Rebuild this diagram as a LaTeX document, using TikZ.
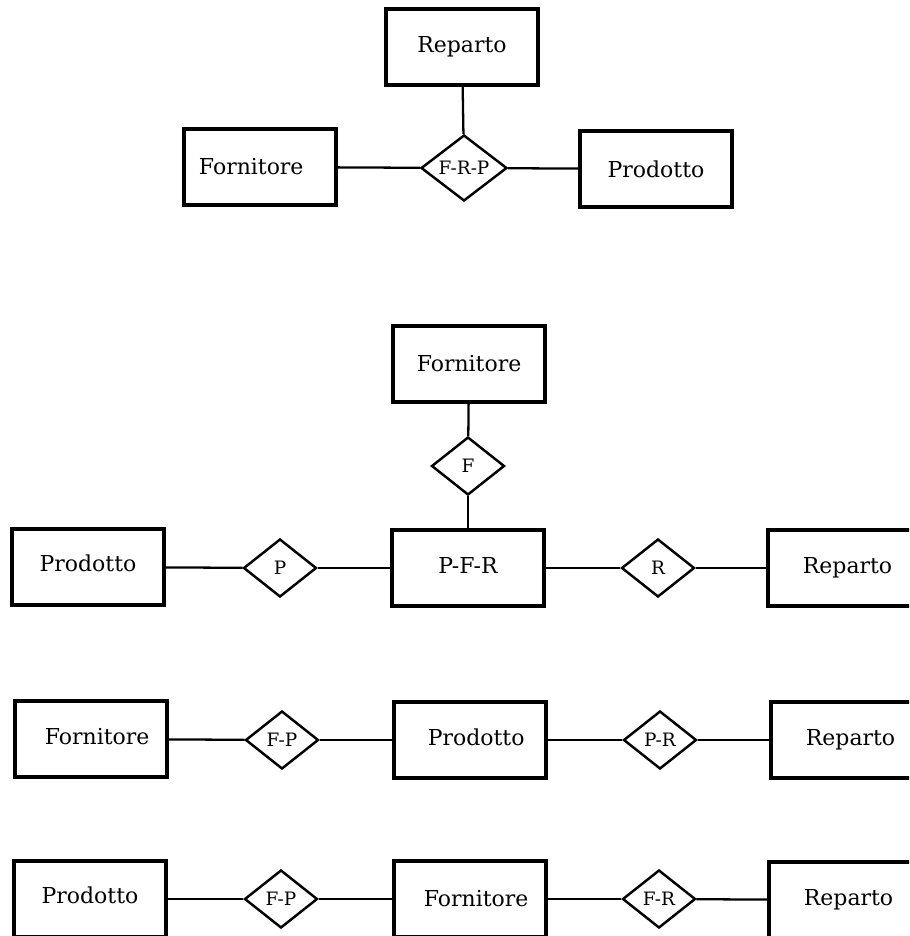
\documentclass[tikz,border=0pt]{standalone}
\usepackage{fontspec}
\setmainfont{DejaVu Serif}
\usetikzlibrary{positioning,shapes.geometric}

\tikzset{
  entity/.style={draw, line width=1.9pt, minimum width=3.04cm, minimum height=1.52cm,
                 inner sep=0pt, font=\fontsize{12.5}{14}\selectfont},
  relation/.style={draw, diamond, aspect=2, line width=1.4pt, minimum width=1.46cm, minimum height=1.16cm,
                   inner sep=0pt, font=\fontsize{10.5}{12}\selectfont},
  link/.style={line width=1.3pt}
}

\begin{document}
\begin{tikzpicture}[x=0.02cm, y=-0.02cm]

  \useasboundingbox (0,0) rectangle (909,936);
  \clip (0,0) rectangle (909,936);

  % ternary relation
  \node[entity]   (rep1) at (462,47)  {\raisebox{3pt}{Reparto}};
  \node[entity]   (for1) at (260,167) {\hspace*{-10pt}Fornitore};
  \node[relation, minimum width=1.72cm, minimum height=1.32cm] (frp) at (464,168) {F-R-P};
  \node[entity]   (pro1) at (656,169) {Prodotto};

  \draw[link] (for1) -- (frp);
  \draw[link] (frp) -- (pro1);
  \draw[link] (rep1) -- (frp);

  % P-F-R as entity
  \node[entity]   (for2) at (469,364) {Fornitore};
  \node[relation] (f2)   at (468,466) {F};
  \node[entity]   (pfr)  at (468,568) {\raisebox{3pt}{P-F-R}};
  \node[entity]   (pro2) at (88,567)  {\raisebox{4pt}{Prodotto}};
  \node[relation] (p2)   at (280,568) {P};
  \node[relation] (r2)   at (658,568) {R};
  \node[entity]   (rep2) at (844,568) {\hspace*{4pt}Reparto};

  \draw[link] (for2) -- (f2);
  \draw[link] (f2) -- (pfr);
  \draw[link] (pro2) -- (p2);
  \draw[link] (p2) -- (pfr);
  \draw[link] (pfr) -- (r2);
  \draw[link] (r2) -- (rep2);

  % chain through Prodotto
  \node[entity]   (for3) at (91,739)  {\raisebox{3pt}{\hspace*{7pt}Fornitore}};
  \node[relation] (fp3)  at (282,740) {F-P};
  \node[entity]   (pro3) at (470,740) {\raisebox{3pt}{\hspace*{7pt}Prodotto}};
  \node[relation] (pr3)  at (660,740) {P-R};
  \node[entity]   (rep3) at (847,740) {\hspace*{4pt}Reparto};

  \draw[link] (for3) -- (fp3);
  \draw[link] (fp3) -- (pro3);
  \draw[link] (pro3) -- (pr3);
  \draw[link] (pr3) -- (rep3);

  % chain through Fornitore
  \node[entity]   (pro4) at (90,899)  {\raisebox{4pt}{Prodotto}};
  \node[relation] (fp4)  at (281,899) {F-P};
  \node[entity]   (for4) at (470,899) {\hspace*{7pt}Fornitore};
  \node[relation] (fr4)  at (659,899) {F-R};
  \node[entity]   (rep4) at (845,900) {\hspace*{4pt}Reparto};

  \draw[link] (pro4) -- (fp4);
  \draw[link] (fp4) -- (for4);
  \draw[link] (for4) -- (fr4);
  \draw[link] (fr4) -- (rep4);

\end{tikzpicture}
\end{document}
